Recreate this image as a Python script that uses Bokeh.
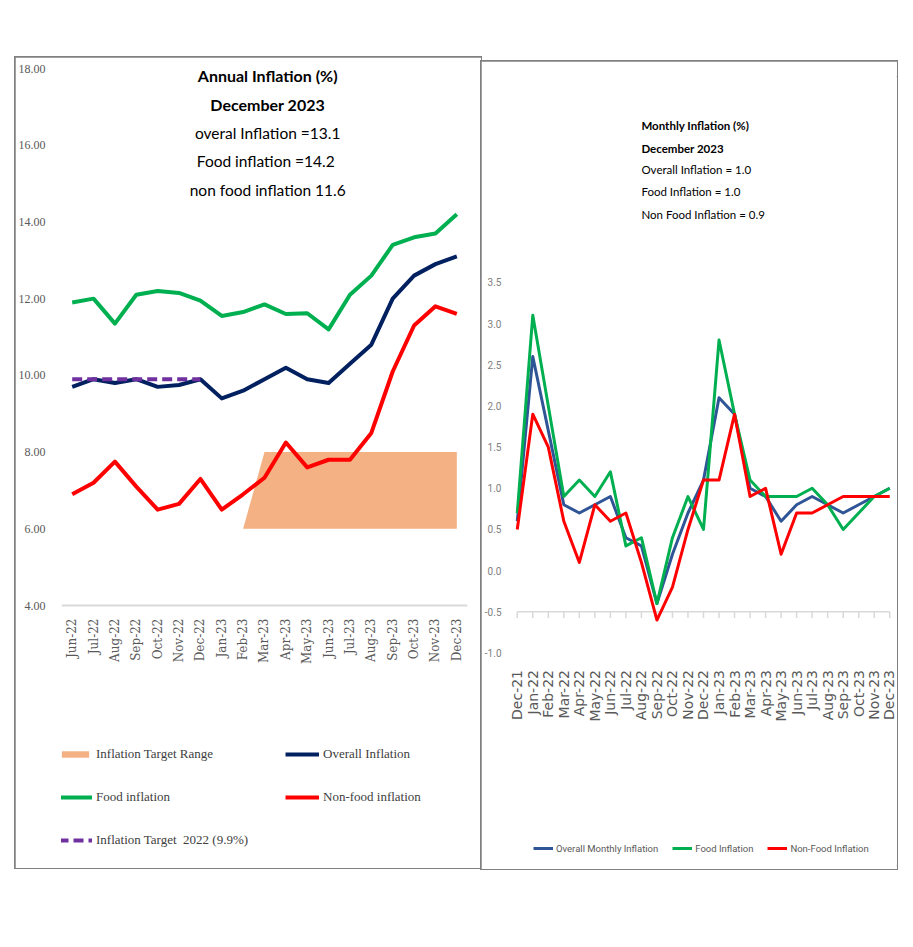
import math
from bokeh.plotting import figure
from bokeh.models import (FactorRange, Range1d, Legend, LegendItem, Label,
                          FixedTicker, NumeralTickFormatter, Spacer)
from bokeh.layouts import row, column
from bokeh.embed import file_html
from bokeh.resources import INLINE

# ---------------- data: annual inflation ----------------
annual_months = ["Jun-22", "Jul-22", "Aug-22", "Sep-22", "Oct-22", "Nov-22", "Dec-22",
                 "Jan-23", "Feb-23", "Mar-23", "Apr-23", "May-23", "Jun-23", "Jul-23",
                 "Aug-23", "Sep-23", "Oct-23", "Nov-23", "Dec-23"]
annual_overall = [9.7, 9.9, 9.8, 9.9, 9.7, 9.75, 9.9, 9.4, 9.6, 9.9, 10.2, 9.9, 9.8, 10.3,
                  10.8, 12.0, 12.6, 12.9, 13.1]
annual_food = [11.9, 12.0, 11.35, 12.1, 12.2, 12.15, 11.95, 11.55, 11.65, 11.85, 11.6, 11.62,
               11.2, 12.1, 12.6, 13.4, 13.6, 13.7, 14.2]
annual_nonfood = [6.9, 7.2, 7.75, 7.1, 6.5, 6.65, 7.3, 6.5, 6.9, 7.33, 8.25, 7.6, 7.8, 7.8,
                  8.5, 10.1, 11.3, 11.8, 11.6]
target_2022_months = ["Jun-22", "Jul-22", "Aug-22", "Sep-22", "Oct-22", "Nov-22", "Dec-22"]
target_2022 = [9.9, 9.9, 9.9, 9.9, 9.9, 9.9, 9.9]
target_range_months = ["Feb-23", "Mar-23", "Apr-23", "May-23", "Jun-23", "Jul-23", "Aug-23",
                       "Sep-23", "Oct-23", "Nov-23", "Dec-23"]
target_range_low = [6.0, 6.0, 6.0, 6.0, 6.0, 6.0, 6.0, 6.0, 6.0, 6.0, 6.0]
target_range_high = [6.0, 8.0, 8.0, 8.0, 8.0, 8.0, 8.0, 8.0, 8.0, 8.0, 8.0]
annual_ticks = [4, 6, 8, 10, 12, 14, 16, 18]
annual_axis_level = 4
annual_title = ["Annual Inflation (%)", "December 2023", "overal Inflation =13.1",
                "Food inflation  =14.2", "non food inflation 11.6"]

# ---------------- data: monthly inflation ----------------
monthly_months = ["Dec-21", "Jan-22", "Feb-22", "Mar-22", "Apr-22", "May-22", "Jun-22",
                  "Jul-22", "Aug-22", "Sep-22", "Oct-22", "Nov-22", "Dec-22", "Jan-23",
                  "Feb-23", "Mar-23", "Apr-23", "May-23", "Jun-23", "Jul-23", "Aug-23",
                  "Sep-23", "Oct-23", "Nov-23", "Dec-23"]
monthly_overall = [0.6, 2.6, 1.7, 0.8, 0.7, 0.8, 0.9, 0.4, 0.3, -0.4, 0.2, 0.7, 1.1, 2.1,
                   1.9, 1.0, 0.9, 0.6, 0.8, 0.9, 0.8, 0.7, 0.8, 0.9, 1.0]
monthly_food = [0.7, 3.1, 2.0, 0.9, 1.1, 0.9, 1.2, 0.3, 0.4, -0.4, 0.4, 0.9, 0.5, 2.8,
                1.9, 1.1, 0.9, 0.9, 0.9, 1.0, 0.8, 0.5, 0.7, 0.9, 1.0]
monthly_nonfood = [0.5, 1.9, 1.5, 0.6, 0.1, 0.8, 0.6, 0.7, 0.1, -0.6, -0.2, 0.5, 1.1, 1.1,
                   1.9, 0.9, 1.0, 0.2, 0.7, 0.7, 0.8, 0.9, 0.9, 0.9, 0.9]
monthly_ticks = [-1.0, -0.5, 0.0, 0.5, 1.0, 1.5, 2.0, 2.5, 3.0, 3.5]
monthly_axis_level = -0.5
monthly_label_level = -1.0
monthly_title = ["Monthly Inflation (%)", "December 2023", "Overall Inflation = 1.0",
                 "Food Inflation = 1.0", "Non Food Inflation = 0.9"]

GREEN = "#00B050"
NAVY = "#002060"
RED = "#FF0000"
PURPLE = "#7030A0"
ORANGE = "#F4B183"
BLUE = "#2F5597"
BOX = {"outline": "2px solid #808080", "outline-offset": "-1px"}

# ================= left: annual =================
p1 = figure(width=466, height=811, x_range=FactorRange(factors=annual_months),
            y_range=Range1d(-2.804, 18), output_backend="svg", toolbar_location=None,
            min_border_left=37, min_border_right=14, min_border_top=11, min_border_bottom=2,
            background_fill_color="white", border_fill_color="white")
p1.styles = BOX
p1.outline_line_color = None
p1.xgrid.visible = False
p1.ygrid.visible = False

p1.yaxis.ticker = FixedTicker(ticks=annual_ticks)
p1.yaxis.formatter = NumeralTickFormatter(format="0.00")
p1.yaxis.axis_line_color = None
p1.yaxis.major_tick_line_color = None
p1.yaxis.minor_tick_line_color = None
p1.yaxis.major_label_standoff = 10
p1.yaxis.major_label_text_font = "Liberation Serif"
p1.yaxis.major_label_text_font_size = "12px"
p1.yaxis.major_label_text_color = "#595959"

p1.xaxis.fixed_location = annual_axis_level
p1.xaxis.axis_line_color = "#D9D9D9"
p1.xaxis.axis_line_width = 2
p1.xaxis.major_tick_line_color = None
p1.xaxis.minor_tick_line_color = None
p1.xaxis.major_label_orientation = math.pi / 2
p1.xaxis.major_label_standoff = 7
p1.xaxis.major_label_text_font = "DejaVu Serif"
p1.xaxis.major_label_text_font_size = "12px"
p1.xaxis.major_label_text_color = "#595959"

r_range = p1.varea(x=target_range_months, y1=target_range_low, y2=target_range_high,
                   fill_color=ORANGE)
r_food = p1.line(annual_months, annual_food, line_color=GREEN, line_width=4, line_join="round")
r_overall = p1.line(annual_months, annual_overall, line_color=NAVY, line_width=4, line_join="round")
r_nonfood = p1.line(annual_months, annual_nonfood, line_color=RED, line_width=4, line_join="round")
r_target = p1.line(target_2022_months, target_2022, line_color=PURPLE, line_width=4,
                   line_dash="10 5")

title_y1 = [17.82, 17.06, 16.33, 15.60, 14.82]
for i, t in enumerate(annual_title):
    p1.add_layout(Label(x=9.65, y=title_y1[i], text=t, text_align="center",
                        text_baseline="middle", text_font="Lato",
                        text_font_size="16px" if i < 2 else "15.5px", text_color="black",
                        text_font_style="bold" if i < 2 else "normal"))

leg1 = Legend(items=[LegendItem(label="Inflation Target Range", renderers=[r_range]),
                     LegendItem(label="Overall Inflation", renderers=[r_overall]),
                     LegendItem(label="Food inflation", renderers=[r_food]),
                     LegendItem(label="Non-food inflation", renderers=[r_nonfood]),
                     LegendItem(label="Inflation Target  2022 (9.9%)", renderers=[r_target])],
              orientation="horizontal", ncols=2, location=(-3, 18),
              glyph_width=34, glyph_height=8, label_standoff=4, label_width=162,
              spacing=27, padding=8, margin=0,
              label_text_font="Liberation Serif", label_text_font_size="13px",
              label_text_color="#404040", border_line_color=None,
              background_fill_alpha=0)
p1.add_layout(leg1)

# ================= right: monthly =================
p2 = figure(width=416, height=808,
            x_range=FactorRange(factors=monthly_months),
            y_range=Range1d(-3.58, 6.0), output_backend="svg", toolbar_location=None,
            min_border_left=14, min_border_right=0, min_border_top=15, min_border_bottom=4,
            background_fill_color="white", border_fill_color="white")
p2.styles = BOX
p2.outline_line_color = None
p2.xgrid.visible = False
p2.ygrid.visible = False

p2.yaxis.ticker = FixedTicker(ticks=monthly_ticks)
p2.yaxis.formatter = NumeralTickFormatter(format="0.0")
p2.yaxis.axis_line_color = None
p2.yaxis.major_tick_line_color = None
p2.yaxis.minor_tick_line_color = None
p2.yaxis.major_label_standoff = 2
p2.yaxis.major_label_text_font = "Roboto"
p2.yaxis.major_label_text_font_size = "10px"
p2.yaxis.major_label_text_color = "#808080"

p2.xaxis.fixed_location = monthly_label_level
p2.xaxis.axis_line_color = None
p2.xaxis.major_tick_line_color = None
p2.xaxis.minor_tick_line_color = None
p2.xaxis.major_label_orientation = math.pi / 2
p2.xaxis.major_label_standoff = 11
p2.xaxis.major_label_text_font = "DejaVu Sans"
p2.xaxis.major_label_text_font_size = "14px"
p2.xaxis.major_label_text_color = "#595959"

# horizontal axis line at -0.5 with tick marks at each month
p2.line(x=[monthly_months[0], monthly_months[-1]],
        y=[monthly_axis_level, monthly_axis_level],
        line_color="#D9D9D9", line_width=1.5)
p2.segment(x0=monthly_months, x1=monthly_months,
           y0=[monthly_axis_level] * len(monthly_months),
           y1=[monthly_axis_level - 0.075] * len(monthly_months),
           line_color="#D9D9D9", line_width=1.5)

m_overall = p2.line(monthly_months, monthly_overall, line_color=BLUE, line_width=3, line_join="round")
m_food = p2.line(monthly_months, monthly_food, line_color=GREEN, line_width=3, line_join="round")
m_nonfood = p2.line(monthly_months, monthly_nonfood, line_color=RED, line_width=3, line_join="round")

title_y2 = [5.41, 5.13, 4.87, 4.60, 4.32]
for i, t in enumerate(monthly_title):
    p2.add_layout(Label(x=8.5, y=title_y2[i], text=t, text_align="left",
                        text_baseline="middle", text_font="Lato",
                        text_font_size="11.5px", text_color="black",
                        text_font_style="bold" if i < 2 else "normal"))

leg2 = Legend(items=[LegendItem(label="Overall Monthly Inflation", renderers=[m_overall]),
                     LegendItem(label="Food Inflation", renderers=[m_food]),
                     LegendItem(label="Non-Food Inflation", renderers=[m_nonfood])],
              orientation="horizontal", location=(24, 7),
              glyph_width=20, label_standoff=3, spacing=14, padding=5, margin=0,
              label_text_font="Roboto", label_text_font_size="9.5px",
              label_text_color="#595959", border_line_color=None,
              background_fill_alpha=0)
p2.add_layout(leg2)

layout = column(Spacer(height=57),
                row(Spacer(width=15), p1, column(Spacer(height=4), p2)))

open("out.html", "w").write(file_html(layout, INLINE))
